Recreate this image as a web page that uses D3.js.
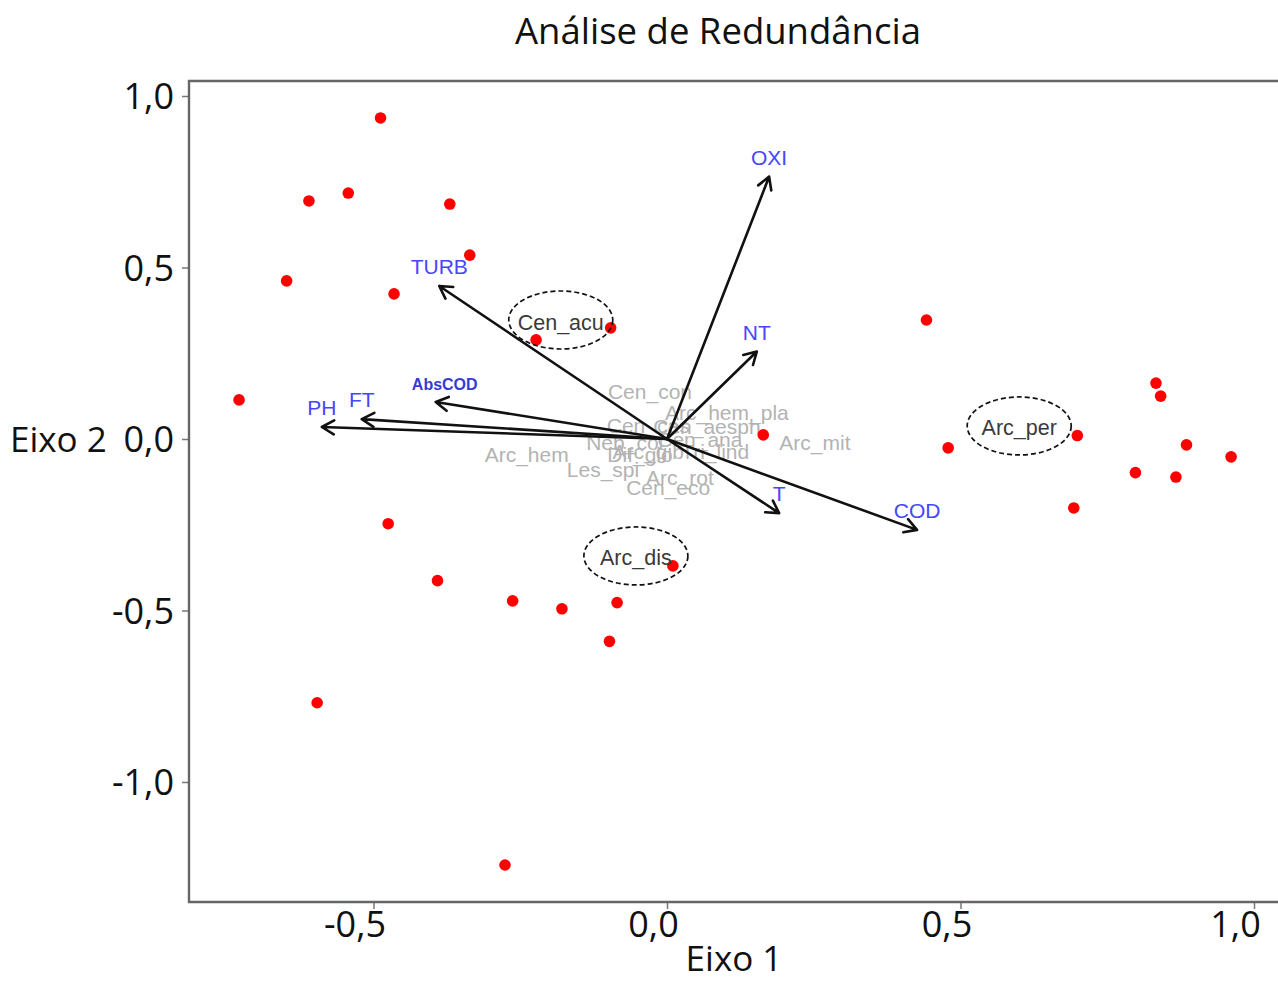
<!DOCTYPE html>
<html><head><meta charset="utf-8">
<script src="https://cdn.jsdelivr.net/npm/d3@7/dist/d3.min.js"></script>
<style>body{margin:0;background:#fff}</style>
</head><body>
<svg id="chart" width="1278" height="981"></svg>
<script>
// ---- data ----
const siteX = [-0.488,-0.610,-0.543,-0.370,-0.336,-0.648,-0.465,-0.729,-0.223,-0.096,
               0.442,0.833,0.841,0.699,0.479,0.885,0.961,0.798,0.867,0.693,0.164,
               -0.475,-0.391,-0.263,-0.179,-0.085,-0.098,-0.596,-0.276,0.010];
const siteY = [0.936,0.694,0.717,0.685,0.536,0.461,0.423,0.114,0.289,0.324,
               0.347,0.163,0.125,0.010,-0.026,-0.017,-0.052,-0.098,-0.111,-0.201,0.012,
               -0.247,-0.413,-0.472,-0.495,-0.477,-0.590,-0.769,-1.242,-0.370];

const envNames = ["OXI","NT","TURB","AbsCOD","FT","PH","T","COD"];
const envX = [0.174,0.153,-0.388,-0.394,-0.520,-0.588,0.191,0.426];
const envY = [0.765,0.255,0.446,0.108,0.058,0.035,-0.216,-0.265];

const speciesNames = ["Cen_con","Arc_hem_pla","Cen_cas","Cen_aesph","Cen_ana","Neb_col","Arc_mit",
                      "Arc_gib","Tri_lind","Dif_glo","Arc_hem","Les_spi","Arc_rot","Cen_eco"];
const speciesX = [-0.029,0.102,-0.032,0.068,0.056,-0.072,0.252,-0.032,0.082,-0.046,-0.239,-0.109,0.022,0.002];
const speciesY = [0.137,0.076,0.038,0.035,-0.003,-0.012,-0.012,-0.038,-0.038,-0.047,-0.047,-0.090,-0.114,-0.143];

const highlightNames = ["Cen_acu","Arc_per","Arc_dis"];
const highlightX = [-0.181,0.600,-0.053];
const highlightY = [0.347,0.038,-0.341];

const xTicks = [-0.5,0,0.5,1.0];
const xTickLabels = ["-0,5","0,0","0,5","1,0"];
const yTicks = [1.0,0.5,0,-0.5,-1.0];
const yTickLabels = ["1,0","0,5","0,0","-0,5","-1,0"];
const title = "Análise de Redundância";
const xTitle = "Eixo 1";
const yTitle = "Eixo 2";

// ---- drawing ----
const svg = d3.select("#chart");
const pLeft = 189, pTop = 81, pBottom = 902, pRight = 1278;
const x = d3.scaleLinear().domain([0,1]).range([667,1254]);
const y = d3.scaleLinear().domain([0,1]).range([439,96]);

const sans = "'Open Sans', sans-serif";
const arial = "'Liberation Sans', Arial, sans-serif";

svg.append("text").attr("x",718).attr("y",44).attr("text-anchor","middle")
  .attr("font-family",sans).attr("font-size",36.5).attr("fill","#111").text(title);

// axes
const xAxis = svg.append("g").attr("transform",`translate(0,${pBottom})`)
  .call(d3.axisBottom(x).tickValues(xTicks).tickFormat((d,i)=>xTickLabels[i]).tickSize(7).tickPadding(2));
const yAxis = svg.append("g").attr("transform",`translate(${pLeft},0)`)
  .call(d3.axisLeft(y).tickValues(yTicks).tickFormat((d,i)=>yTickLabels[i]).tickSize(7).tickPadding(8));
[xAxis,yAxis].forEach(g=>{
  g.select(".domain").remove();
  g.selectAll(".tick line").attr("stroke","#777").attr("stroke-width",1.5);
  g.selectAll(".tick text").attr("font-family",sans).attr("font-size",36).attr("fill","#111");
});
yAxis.selectAll(".tick text").attr("dy","0.36em");
xAxis.selectAll(".tick text").attr("dx",(d,i)=> (i===0||i===3) ? -19 : -14);

// frame
svg.append("path").attr("d",`M${pRight+20},${pTop}H${pLeft}V${pBottom}H${pRight+20}`)
  .attr("fill","none").attr("stroke","#666").attr("stroke-width",2.4);

svg.append("text").attr("x",734).attr("y",971).attr("text-anchor","middle")
  .attr("font-family",sans).attr("font-size",35).attr("fill","#111").text(xTitle);
svg.append("text").attr("x",10).attr("y",y(0)).attr("dy","0.36em")
  .attr("font-family",sans).attr("font-size",35).attr("fill","#111").text(yTitle);

// species labels (grey)
const plot = svg.append("g");
plot.selectAll("text.sp").data(speciesNames).join("text").attr("class","sp")
  .attr("x",(d,i)=>x(speciesX[i])).attr("y",(d,i)=>y(speciesY[i])).attr("dy","0.35em")
  .attr("text-anchor","middle").attr("font-family",arial).attr("font-size",21)
  .attr("fill","#b3b3b3").text(d=>d);

// env arrows
const ox = x(0), oy = y(0);
const arrows = plot.append("g").attr("stroke","#111").attr("stroke-width",2.6).attr("fill","none")
  .attr("stroke-linecap","round").attr("stroke-linejoin","round");
envNames.forEach((n,i)=>{
  const hx = x(envX[i]), hy = y(envY[i]);
  const ang = Math.atan2(hy-oy, hx-ox);
  const L = 14, a = Math.PI/6;
  const p = d3.path();
  p.moveTo(ox,oy); p.lineTo(hx,hy);
  p.moveTo(hx - L*Math.cos(ang-a), hy - L*Math.sin(ang-a)); p.lineTo(hx,hy);
  p.lineTo(hx - L*Math.cos(ang+a), hy - L*Math.sin(ang+a));
  arrows.append("path").attr("d",p.toString());
});

// sites
plot.selectAll("circle.site").data(siteX).join("circle").attr("class","site")
  .attr("cx",(d,i)=>x(siteX[i])).attr("cy",(d,i)=>y(siteY[i])).attr("r",5.8).attr("fill","#ff0000");

// env labels
plot.selectAll("text.env").data(envNames).join("text").attr("class","env")
  .attr("x",(d,i)=>x(envX[i]) + (d==="AbsCOD"?9:0)).attr("y",(d,i)=>y(envY[i]) - 12)
  .attr("text-anchor","middle").attr("font-family",arial)
  .attr("font-size",d=>d==="AbsCOD"?16:21).attr("font-weight",d=>d==="AbsCOD"?"bold":"normal")
  .attr("fill",d=>d==="AbsCOD"?"#3a3ad0":"#4646ff").text(d=>d);

// highlighted species with dashed ellipses
highlightNames.forEach((n,i)=>{
  const cx = x(highlightX[i]), cy = y(highlightY[i]);
  plot.append("ellipse").attr("cx",cx).attr("cy",cy).attr("rx",52).attr("ry",29)
    .attr("fill","none").attr("stroke","#111").attr("stroke-width",1.7).attr("stroke-dasharray","5,3");
  plot.append("text").attr("x",cx).attr("y",cy+2).attr("dy","0.35em").attr("text-anchor","middle")
    .attr("font-family",arial).attr("font-size",21.5).attr("fill","#3a3a3a").text(n);
});
</script>
</body></html>
